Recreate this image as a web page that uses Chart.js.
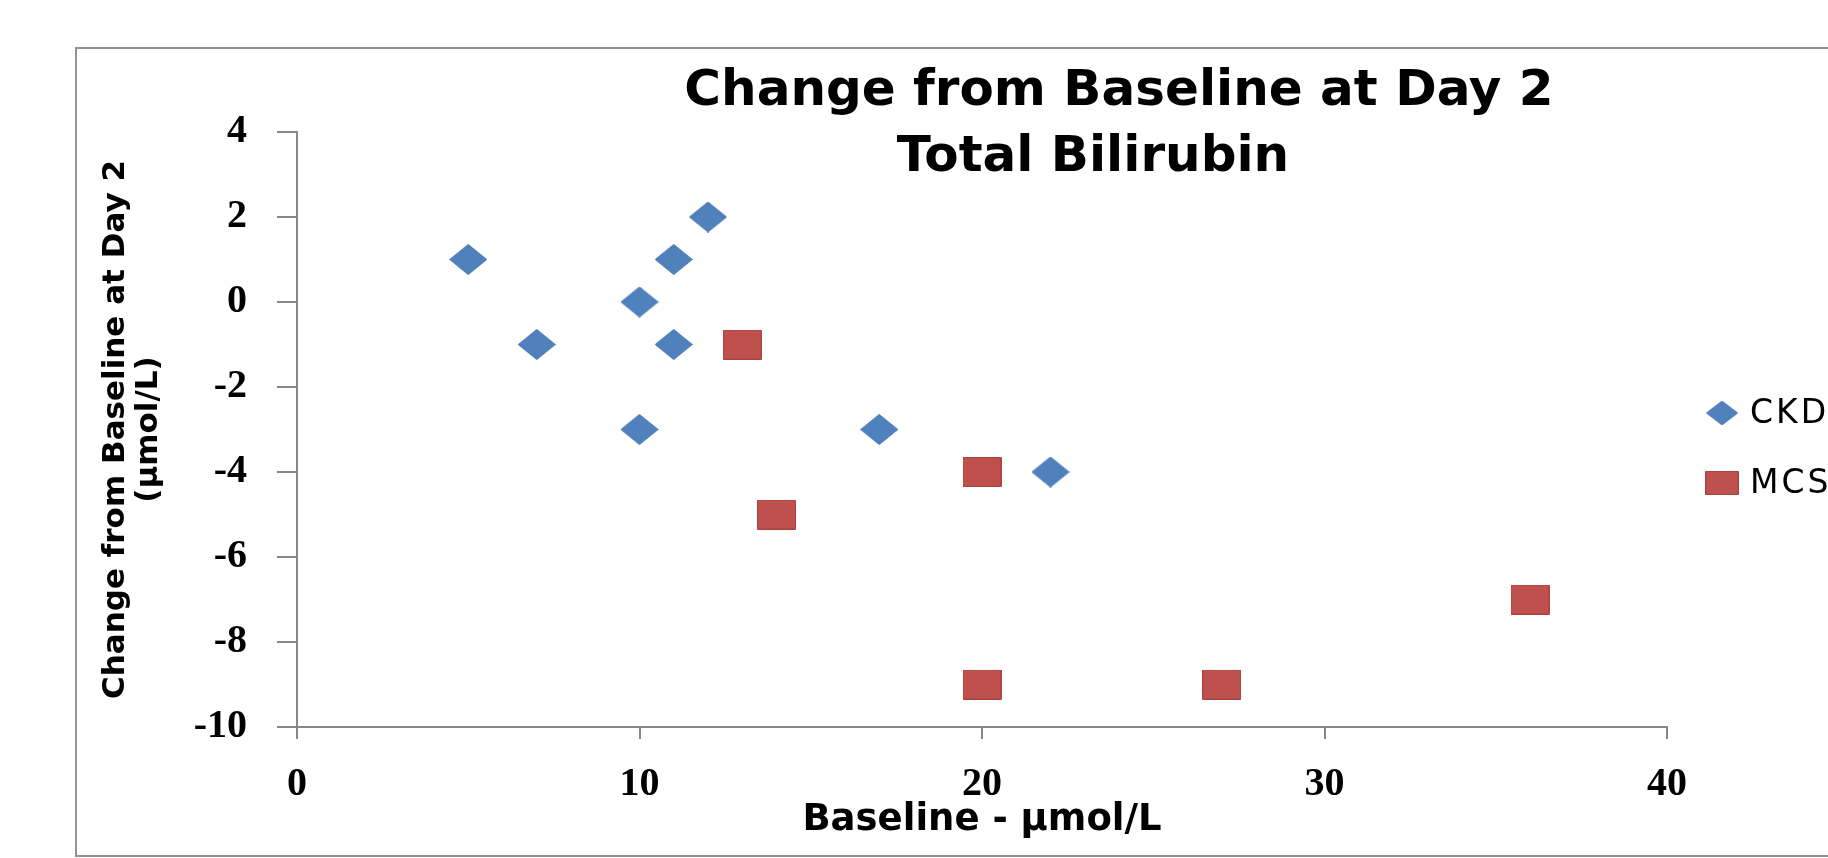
<!DOCTYPE html>
<html>
<head>
<meta charset="utf-8">
<title>Change from Baseline at Day 2 - Total Bilirubin</title>
<script src="https://cdn.jsdelivr.net/npm/chart.js@4.4.1/dist/chart.umd.min.js"></script>
<style>
  html, body { margin: 0; padding: 0; background: #fff; }
</style>
</head>
<body>
<canvas id="chart" width="1828" height="858"></canvas>
<script>
// data
const ckdBaseline = [5, 7, 10, 10, 11, 11, 12, 17, 22];
const ckdChange = [1, -1, 0, -3, 1, -1, 2, -3, -4];
const mcsBaseline = [13, 14, 20, 20, 27, 36];
const mcsChange = [-1, -5, -4, -9, -9, -7];
const seriesNames = ['CKD', 'MCS'];
const xTicks = [0, 10, 20, 30, 40];
const yTicks = [4, 2, 0, -2, -4, -6, -8, -10];
const titleLines = ['Change from Baseline at Day 2', 'Total Bilirubin'];
const xTitle = 'Baseline - µmol/L';
const yTitle = ['Change from Baseline at Day 2', '(µmol/L)'];

const axisGrey = '#878787';

// Excel style markers (a bit wider than tall, like the picture)
function makeMarker(shape, w, h, fill, stroke) {
  const c = document.createElement('canvas');
  c.width = w;
  c.height = h;
  const g = c.getContext('2d');
  g.fillStyle = fill;
  g.strokeStyle = stroke;
  g.lineWidth = 1;
  g.beginPath();
  if (shape === 'diamond') {
    g.moveTo(w / 2, 0.5);
    g.lineTo(w - 0.5, h / 2);
    g.lineTo(w / 2, h - 0.5);
    g.lineTo(0.5, h / 2);
    g.closePath();
  } else {
    g.rect(0.5, 0.5, w - 1, h - 1);
  }
  g.fill();
  g.stroke();
  return c;
}

const diamond = makeMarker('diamond', 38, 31, '#4F81BD', '#4675AE');
const square = makeMarker('square', 39, 30, '#C0504D', '#A8423F');

const toPoints = (xs, ys) => xs.map((x, i) => ({ x: x, y: ys[i] }));

// frame, title and legend drawn around the plot
const decor = {
  id: 'decor',
  beforeDraw(chart) {
    const ctx = chart.ctx;
    ctx.save();
    ctx.fillStyle = '#fff';
    ctx.fillRect(0, 0, chart.width, chart.height);
    ctx.strokeStyle = '#939393';
    ctx.lineWidth = 2;
    ctx.strokeRect(76, 48, chart.width, 808);
    ctx.restore();
  },
  afterDraw(chart) {
    const ctx = chart.ctx;
    ctx.save();
    ctx.fillStyle = '#000';
    ctx.font = 'bold 50px "DejaVu Sans"';
    ctx.textAlign = 'center';
    ctx.textBaseline = 'alphabetic';
    ctx.fillText(titleLines[0], 1119, 105);
    ctx.fillText(titleLines[1], 1093, 171);

    ctx.font = '33px "DejaVu Sans"';
    ctx.letterSpacing = '3px';
    ctx.textAlign = 'left';
    ctx.textBaseline = 'middle';
    chart.data.datasets.forEach((ds, i) => {
      const y = 413 + i * 70;
      const m = ds.pointStyle;
      const w = m.width * 0.85, h = m.height * 0.8;
      ctx.drawImage(m, 1722 - w / 2, y - h / 2, w, h);
      ctx.fillText(ds.label, 1750, y + 1);
    });
    ctx.restore();
  }
};

const tickFont = { family: '"Liberation Serif"', size: 40, weight: 'bold' };

new Chart(document.getElementById('chart'), {
  type: 'scatter',
  data: {
    datasets: [
      {
        label: seriesNames[0],
        data: toPoints(ckdBaseline, ckdChange),
        pointStyle: diamond,
        backgroundColor: '#4F81BD'
      },
      {
        label: seriesNames[1],
        data: toPoints(mcsBaseline, mcsChange),
        pointStyle: square,
        backgroundColor: '#C0504D'
      }
    ]
  },
  options: {
    responsive: false,
    animation: false,
    devicePixelRatio: 1,
    layout: { padding: { left: 0, top: 132, right: 161, bottom: 0 } },
    plugins: {
      legend: { display: false },
      tooltip: { enabled: false },
      title: { display: false }
    },
    scales: {
      x: {
        type: 'linear',
        min: 0,
        max: 40,
        afterBuildTicks: s => { s.ticks = xTicks.map(v => ({ value: v })); },
        afterFit: s => { s.height = 131; },
        ticks: { font: tickFont, color: '#000', padding: 22, maxRotation: 0 },
        grid: { drawOnChartArea: false, drawTicks: true, tickLength: 12, color: axisGrey, lineWidth: 2 },
        border: { display: true, color: axisGrey, width: 2 },
        title: {
          display: true,
          text: xTitle,
          color: '#000',
          font: { family: '"DejaVu Sans"', size: 37, weight: 'bold' },
          padding: { top: 0, bottom: 15 }
        }
      },
      y: {
        type: 'linear',
        min: -10,
        max: 4,
        afterBuildTicks: s => { s.ticks = yTicks.map(v => ({ value: v })); },
        afterFit: s => { s.width = 297; },
        ticks: { font: tickFont, color: '#000', padding: 30 },
        grid: { drawOnChartArea: false, drawTicks: true, tickLength: 20, color: axisGrey, lineWidth: 2 },
        border: { display: true, color: axisGrey, width: 2 },
        title: {
          display: true,
          text: yTitle,
          color: '#000',
          font: { family: '"DejaVu Sans"', size: 31, weight: 'bold', lineHeight: 1.05 },
          padding: { top: 100, bottom: 0 }
        }
      }
    }
  },
  plugins: [decor]
});
</script>
</body>
</html>
